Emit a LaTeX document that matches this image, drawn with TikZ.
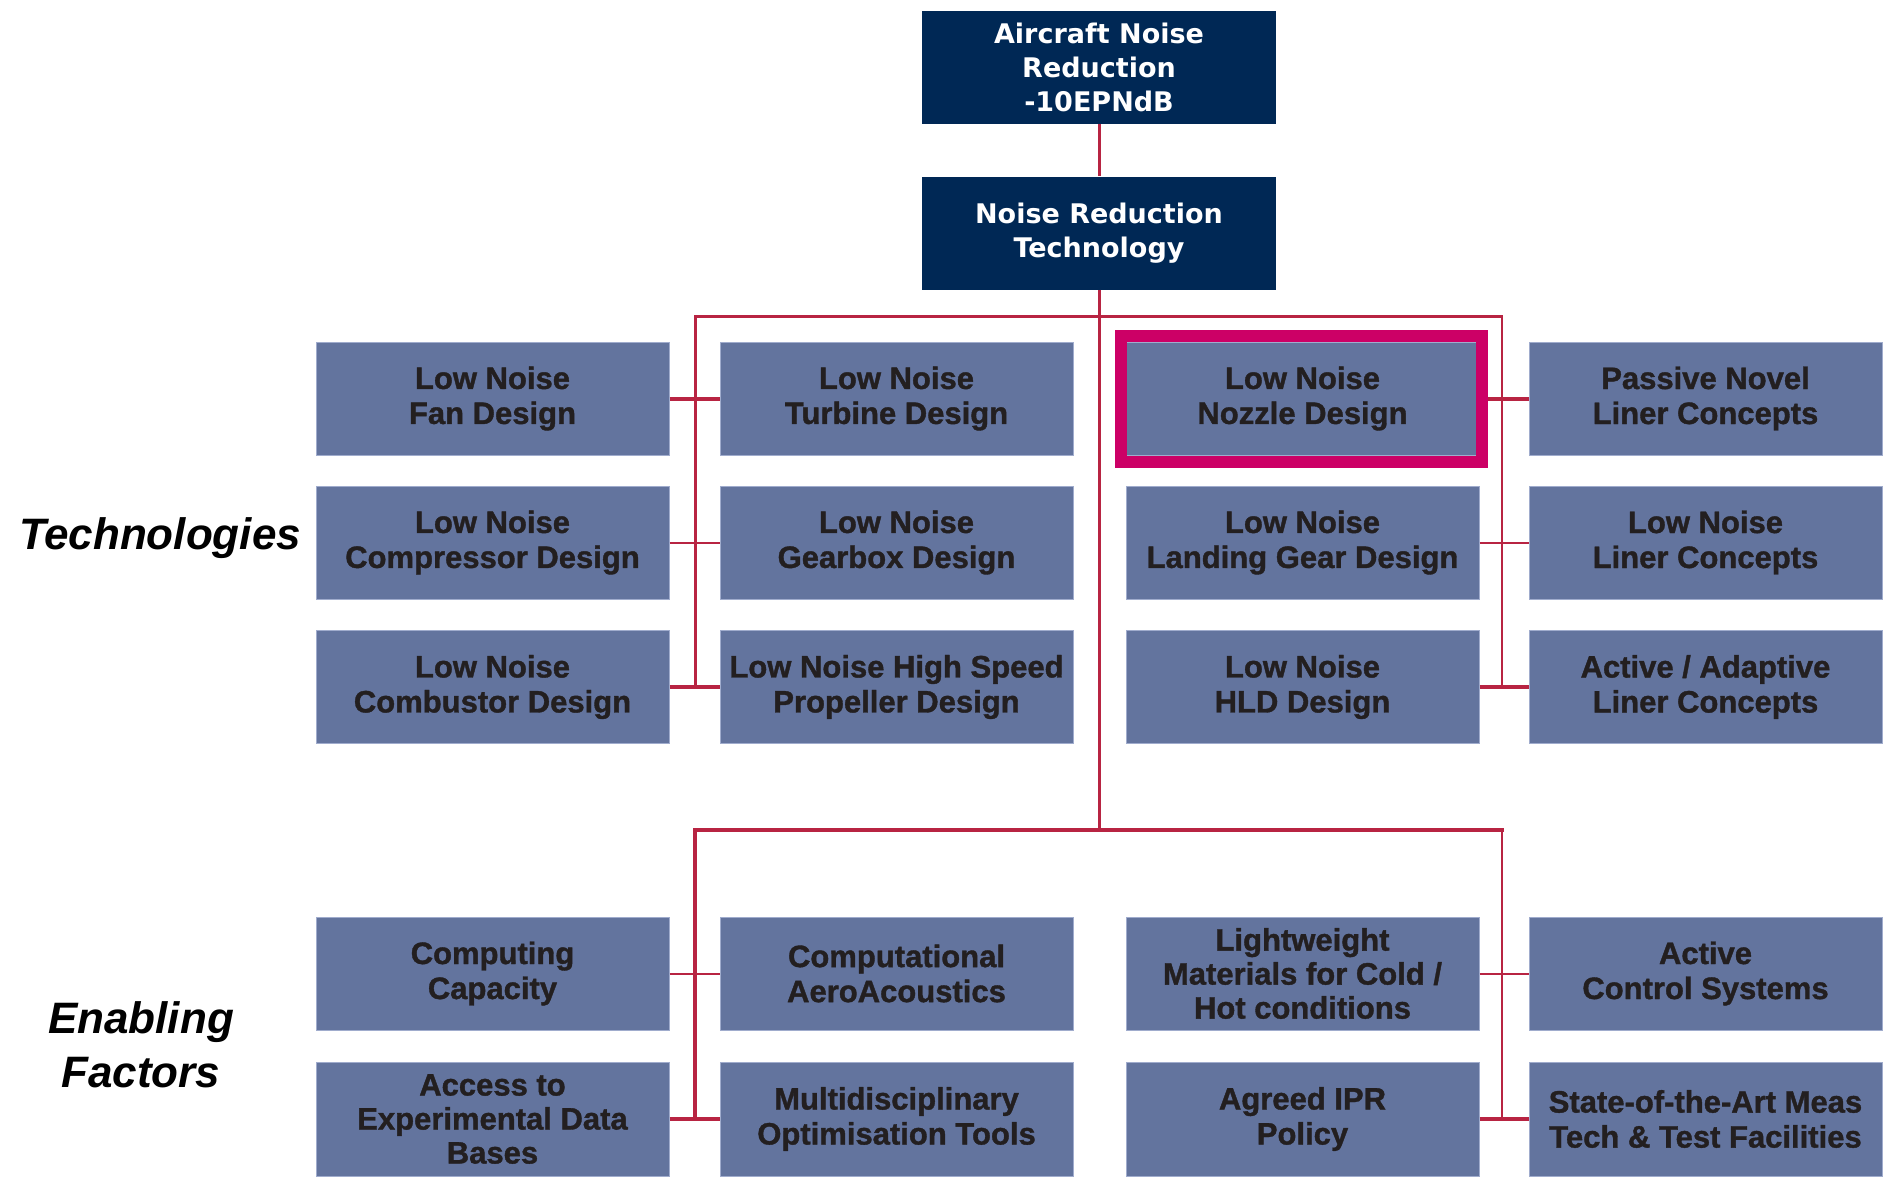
\documentclass[tikz,border=0pt]{standalone}
\usepackage{fontspec}
\newfontfamily\cellfont{Liberation Sans}[BoldFeatures={FakeBold=1.2}]
\newfontfamily\headfont{DejaVu Sans}
\newfontfamily\sidefont{Liberation Sans}
\definecolor{navy}{RGB}{0,40,85}
\definecolor{cellfill}{RGB}{99,116,158}
\definecolor{celledge}{RGB}{160,172,205}
\definecolor{celltext}{RGB}{35,31,32}
\definecolor{link}{RGB}{184,36,66}
\definecolor{focuscol}{RGB}{204,0,102}
\tikzset{
  head/.style={rectangle, fill=navy, minimum width=354pt, minimum height=113pt,
    inner sep=0pt, align=center, text=white,
    font=\headfont\bfseries\fontsize{27}{34}\selectfont},
  cell/.style={rectangle, fill=cellfill, draw=celledge, line width=1pt,
    minimum width=353pt, minimum height=113pt, inner sep=0pt, align=center,
    text=celltext, font=\cellfont\bfseries\fontsize{31}{35}\selectfont},
  side/.style={align=center, text=black,
    font=\sidefont\bfseries\itshape\fontsize{44}{54}\selectfont},
  wire/.style={draw=link, line width=#1},
  spine/.style={draw=link, line width=#1, line cap=rect},
  focus/.style={draw=focuscol, line width=12pt}
}
\begin{document}
\begin{tikzpicture}[x=1pt,y=-1pt]
\useasboundingbox[fill=white] (0,0) rectangle (1888,1183);

% goal and programme
\node[head] (aim) at (1099,67.5) {Aircraft Noise\\Reduction\\-10EPNdB};
\node[head] (nrt) at (1099,233) {Noise Reduction\\Technology};

% technologies
\node[cell] (fan)   at (492.5,398.5)  {Low Noise\\Fan Design};
\node[cell] (turb)  at (896.5,398.5)  {Low Noise\\Turbine Design};
\node[cell] (nozz)  at (1302.5,398.5) {Low Noise\\Nozzle Design};
\node[cell] (pass)  at (1705.5,398.5) {Passive Novel\\Liner Concepts};
\node[cell] (comp)  at (492.5,542.5)  {Low Noise\\Compressor Design};
\node[cell] (gear)  at (896.5,542.5)  {Low Noise\\Gearbox Design};
\node[cell] (land)  at (1302.5,542.5) {Low Noise\\Landing Gear Design};
\node[cell] (liner) at (1705.5,542.5) {Low Noise\\Liner Concepts};
\node[cell] (comb)  at (492.5,687)    {Low Noise\\Combustor Design};
\node[cell] (prop)  at (896.5,687)    {Low Noise High Speed\\Propeller Design};
\node[cell] (hld)   at (1302.5,687)   {Low Noise\\HLD Design};
\node[cell] (act)   at (1705.5,687)   {Active / Adaptive\\Liner Concepts};

% enabling factors
\node[cell] (cpu)   at (492.5,973.5)  {Computing\\Capacity};
\node[cell] (caa)   at (896.5,973.5)  {Computational\\AeroAcoustics};
\node[cell, font=\cellfont\bfseries\fontsize{31}{34}\selectfont] (light) at (1302.5,973.5)
  {Lightweight\\Materials for Cold /\\Hot conditions};
\node[cell] (acs)   at (1705.5,973.5) {Active\\Control Systems};
\node[cell, minimum height=114pt, font=\cellfont\bfseries\fontsize{31}{34}\selectfont] (exp) at (492.5,1119)
  {Access to\\Experimental Data\\Bases};
\node[cell, minimum height=114pt] (mdo)  at (896.5,1119)  {Multidisciplinary\\Optimisation Tools};
\node[cell, minimum height=114pt] (ipr)  at (1302.5,1119) {Agreed IPR\\Policy};
\node[cell, minimum height=114pt] (meas) at (1705.5,1119) {State-of-the-Art Meas\\Tech \& Test Facilities};

% side labels
\node[side] (techlbl) at (160,538) {Technologies};
\node[side] (enlbl) at (141,1045) {Enabling\\Factors};

% branch junctions
\coordinate (tl) at (695,316.7);
\coordinate (tr) at (1502,316.7);
\coordinate (bl) at (695,829.6);
\coordinate (br) at (1502,829.6);

% trunk
\draw[wire=3pt] (aim) -- (nrt);
\draw[wire=3pt] (nrt) -- (nrt |- bl);
\draw[spine=2.5pt] (tl) -- (tr);
\draw[spine=4pt] (bl) -- (br);

% technology branches
\draw[spine=3pt] (tl) -- (tl |- comb);
\draw[spine=2pt] (tr) -- (tr |- hld);
\draw[wire=4pt] (fan) -- (turb);
\draw[wire=2pt] (comp) -- (gear);
\draw[wire=4pt] (comb) -- (prop);
\draw[wire=4pt] (nozz) -- (pass);
\draw[wire=2pt] (land) -- (liner);
\draw[wire=4pt] (hld) -- (act);

% enabling branches
\draw[spine=3.5pt] (bl) -- (bl |- exp);
\draw[spine=2pt] (br) -- (br |- ipr);
\draw[wire=2pt] (cpu) -- (caa);
\draw[wire=4pt] (exp) -- (mdo);
\draw[wire=2pt] (light) -- (acs);
\draw[wire=4pt] (ipr) -- (meas);

% highlighted technology
\draw[focus] ([shift={(-5,-6)}]nozz.north west) rectangle ([shift={(2,6)}]nozz.south east);
\end{tikzpicture}
\end{document}
